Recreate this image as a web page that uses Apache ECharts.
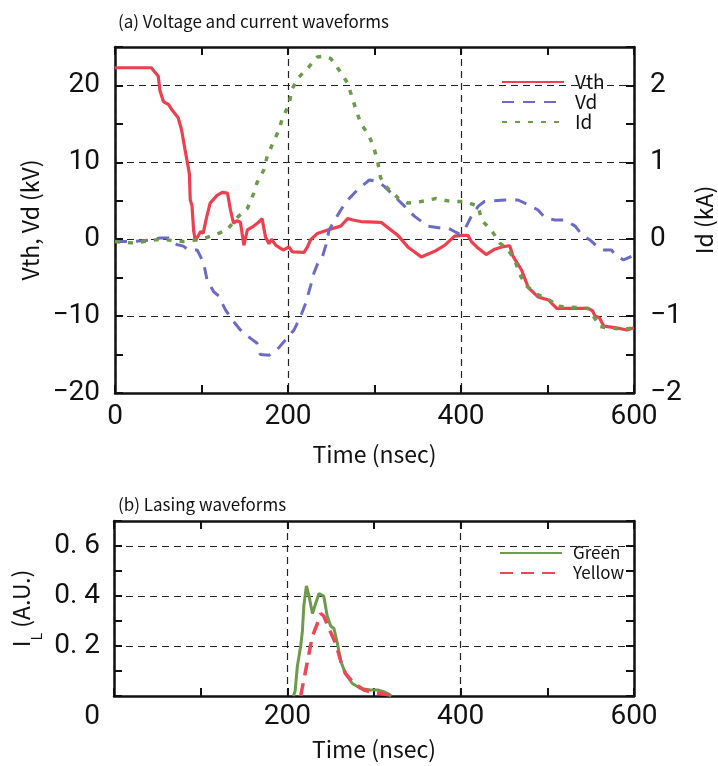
<!DOCTYPE html>
<html>
<head>
<meta charset="utf-8">
<script src="https://cdn.jsdelivr.net/npm/echarts@6/dist/echarts.min.js"></script>
<style>
html, body { margin: 0; padding: 0; background: #fff; overflow: hidden; }
#chart { width: 718px; height: 766px; }
</style>
</head>
<body>
<div id="chart"></div>
<script>
// (a) waveforms, [time (nsec), value]
const vth = [[0, 22.3], [42, 22.3], [50, 21.2], [52, 19.3], [56, 17.9], [62, 17.5], [66, 16.8], [73, 15.8], [77, 14.2],
  [81, 11.6], [84, 9.8], [86, 8.5], [87, 5.1], [89, 4.4], [91, 1], [93, -0.2], [99, 1], [102, 0.8], [106, 2.9],
  [110, 4.7], [118, 5.7], [124, 6.1], [130, 6.0], [133.5, 3.8], [137, 2.1], [141, 2.4], [145, 2.2], [149, -0.8],
  [153, 1.2], [159, 1.6], [166, 2.2], [170, 2.7], [174, 0.3], [178, -0.6], [181, 0], [186, -0.8], [191.5, -1.2],
  [195, -1.4], [201, -1.0], [205, -1.65], [218.5, -1.7], [222.5, -1.0], [226, -0.1], [234, 0.75], [245.7, 1.2],
  [261, 1.7], [269, 2.7], [275, 2.5], [284, 2.3], [307.5, 2.2], [327, 0.5], [338.5, -1], [354, -2.3], [369, -1.6],
  [381, -0.8], [392.6, 0.4], [402, 0.5], [408, 0.5], [412, -0.3], [419.7, -1.15], [429, -2], [439, -1.3], [447, -1.0],
  [456.4, -0.85], [460, -2.2], [470, -4], [477.8, -6.3], [489, -7.5], [501, -7.9], [510.6, -9], [547, -9],
  [552, -9.3], [555, -10], [560, -10.2], [565, -11.3], [578, -11.5], [592, -11.8], [600, -11.5]];

const vd = [[0, -0.3], [21, -0.3], [40, -0.1], [52, 0.15], [62, 0.15], [71.6, -0.7], [79, -0.9], [85, -1.4], [95, -1.4],
  [98.6, -2.2], [102.5, -3.1], [106.4, -5.3], [114, -6.8], [120, -7.4], [127.7, -9.2], [137, -10.7], [145, -11.8],
  [156.7, -12.9], [164, -13.5], [168, -15], [178, -15.1], [189.5, -14.1], [197, -13.1], [207, -11.8], [214.7, -10],
  [220.5, -8.3], [226, -6.1], [230, -4.4], [236, -2.7], [240, -2.2], [244, -0.7], [247.5, 1.2], [261, 3.8], [269, 5.1],
  [280, 6.4], [294, 7.7], [304, 7.5], [311, 6.9], [323, 5.6], [334.6, 4.3], [346, 3.0], [361.7, 1.7], [377, 1.45],
  [385, 1.45], [392.5, 1.0], [398, 0.7], [404, 1.2], [412, 3.0], [420, 4.3], [427, 4.9], [450.6, 5.1], [466, 5.1],
  [477.6, 4.5], [489, 3.8], [497, 2.8], [508.6, 2.5], [520, 2.5], [532, 1.7], [539.6, 0.6], [549, -0.1], [557, -0.9],
  [563, -1.4], [574, -1.4], [578, -2], [588, -2.7], [597.6, -2.2], [600, -2.1]];

const id = [[0, -0.03], [21, -0.05], [52, 0], [79, -0.03], [100, 0], [116, 0.06], [129.6, 0.12], [141, 0.28], [153, 0.4],
  [160.5, 0.6], [164, 0.73], [172, 0.9], [176, 1.08], [181.8, 1.23], [189.5, 1.42], [193.4, 1.57], [201, 1.75],
  [205, 1.96], [212.7, 2.11], [224, 2.24], [234, 2.37], [242, 2.38], [249.5, 2.35], [259, 2.2], [269, 2.03],
  [278.7, 1.68], [284, 1.51], [294, 1.34], [300, 1.16], [304, 0.99], [307, 0.8], [312, 0.7], [319, 0.62], [328, 0.53],
  [338.5, 0.47], [354, 0.49], [371, 0.53], [389, 0.49], [404, 0.49], [420, 0.43], [423.6, 0.25], [435, 0.12],
  [445, -0.05], [454.6, -0.14], [462, -0.27], [468, -0.46], [476, -0.61], [489, -0.72], [505, -0.81], [509, -0.87],
  [547, -0.9], [557, -1.07], [559, -1.13], [567, -1.15], [590, -1.17], [600, -1.15]];

// (b) lasing waveforms
const green = [[207, 0], [209, 0.02], [211.6, 0.12], [215.4, 0.2], [217.4, 0.26], [219, 0.36], [222, 0.44], [225, 0.40],
  [229, 0.33], [232.7, 0.37], [236.5, 0.41], [242, 0.40], [246, 0.32], [250, 0.28], [253.8, 0.27], [257.8, 0.21],
  [261.6, 0.14], [267, 0.09], [275, 0.05], [284.6, 0.03], [296, 0.024], [304, 0.024], [311.5, 0.017], [317, 0.008], [320, 0]];

const yellow = [[215.4, 0], [219, 0.064], [225, 0.17], [229, 0.24], [234.7, 0.29], [238.5, 0.33], [242, 0.32], [248, 0.27],
  [255.8, 0.21], [261.6, 0.14], [267, 0.09], [277, 0.05], [288.5, 0.024], [296, 0.016], [307.7, 0.01], [319, 0.004]];

const voltTicks = [-20, -10, 0, 10, 20];
const currentTicks = [-2, -1, 0, 1, 2];
const timeTicks = [0, 200, 400, 600];
const lasingTicks = [0.2, 0.4, 0.6];

const numFont = "Roboto, 'Noto Sans', sans-serif";
const textFont = "'Noto Sans CJK JP', 'Noto Sans', sans-serif";

const near = (list, v) => list.some(t => Math.abs(t - v) < 1e-6);
const minus = v => String(v).replace('-', '\u2212');

const boxLine = { show: true, onZero: false, lineStyle: { color: '#111', width: 2.5 } };
const tick = { show: true, inside: true, length: 8, lineStyle: { color: '#111', width: 2 } };
const dashGrid = { show: true, lineStyle: { color: '#222', width: 1.2, type: [7, 5] } };
const off = { show: false };

// axis that only draws the frame and inward ticks
const frameAxis = (gridIndex, position, min, max, interval) => ({
  type: 'value', gridIndex, position, min, max, interval,
  axisLine: boxLine, axisTick: tick, axisLabel: off, splitLine: off
});
// axis that only draws the dashed grid lines
const gridAxis = (gridIndex, position, min, max, interval) => ({
  type: 'value', gridIndex, position, min, max, interval,
  axisLine: off, axisTick: off, axisLabel: off, splitLine: dashGrid
});

const chart = echarts.init(document.getElementById('chart'));

const option = {
  animation: false,
  backgroundColor: '#fff',
  title: [
    { text: '(a) Voltage and current waveforms', left: 113, top: 8,
      textStyle: { fontFamily: textFont, fontSize: 17, fontWeight: 'normal', color: '#111' } },
    { text: '(b) Lasing waveforms', left: 113, top: 491,
      textStyle: { fontFamily: textFont, fontSize: 17, fontWeight: 'normal', color: '#111' } }
  ],
  legend: [
    { data: ['Vth', 'Vd', 'Id'], orient: 'vertical', left: 496, top: 67, itemWidth: 62, itemHeight: 14, itemGap: 0,
      itemStyle: { opacity: 0 },
      textStyle: { fontFamily: textFont, fontSize: 19, lineHeight: 20, color: '#111', padding: [0, 0, 0, 6] } },
    { data: ['Green', 'Yellow'], orient: 'vertical', left: 494, top: 538, itemWidth: 62, itemHeight: 14, itemGap: 0,
      itemStyle: { opacity: 0 },
      textStyle: { fontFamily: textFont, fontSize: 17, lineHeight: 20, color: '#111', padding: [0, 0, 0, 6] } }
  ],
  grid: [
    { left: 115, right: 84, top: 47, height: 346, outerBoundsMode: 'none' },
    { left: 114, right: 84, top: 521, height: 175, outerBoundsMode: 'none' }
  ],
  xAxis: [
    { type: 'value', gridIndex: 0, position: 'bottom', min: 0, max: 600, interval: 100,
      axisLine: boxLine, axisTick: tick, splitLine: off,
      axisLabel: { margin: 10, fontFamily: numFont, fontSize: 28, color: '#111',
        formatter: v => near(timeTicks, v) ? String(v) : '' },
      name: 'Time (nsec)', nameLocation: 'middle', nameGap: 50,
      nameTextStyle: { fontFamily: textFont, fontSize: 23, color: '#111' } },
    frameAxis(0, 'top', 0, 600, 100),
    gridAxis(0, 'bottom', 0, 600, 200),
    { type: 'value', gridIndex: 1, position: 'bottom', min: 0, max: 600, interval: 100,
      axisLine: boxLine, axisTick: tick, splitLine: off,
      axisLabel: { margin: 7, fontFamily: numFont, fontSize: 28, color: '#111',
        formatter: v => v === 0 ? '{z|0}' : (near(timeTicks, v) ? String(v) : ''),
        rich: { z: { fontFamily: numFont, fontSize: 28, color: '#111', padding: [0, 44, 0, 0] } } },
      name: 'Time (nsec)', nameLocation: 'middle', nameGap: 42,
      nameTextStyle: { fontFamily: textFont, fontSize: 23, color: '#111' } },
    frameAxis(1, 'top', 0, 600, 100),
    gridAxis(1, 'bottom', 0, 600, 200)
  ],
  yAxis: [
    { type: 'value', gridIndex: 0, position: 'left', min: -20, max: 25, interval: 5,
      axisLine: boxLine, axisTick: tick, splitLine: off,
      axisLabel: { margin: 15, fontFamily: numFont, fontSize: 28, color: '#111',
        formatter: v => near(voltTicks, v) ? minus(v) : '' },
      name: 'Vth, Vd (kV)', nameLocation: 'middle', nameGap: 64,
      nameTextStyle: { fontFamily: textFont, fontSize: 23, color: '#111' } },
    { type: 'value', gridIndex: 0, position: 'right', min: -2, max: 2.5, interval: 0.5,
      axisLine: boxLine, axisTick: tick, splitLine: off,
      axisLabel: { margin: 16, fontFamily: numFont, fontSize: 28, color: '#111',
        formatter: v => near(currentTicks, v) ? minus(v) : '' },
      name: 'Id (kA)', nameLocation: 'middle', nameGap: 42,
      nameTextStyle: { fontFamily: textFont, fontSize: 23, color: '#111' } },
    gridAxis(0, 'left', -20, 25, 10),
    { type: 'value', gridIndex: 1, position: 'left', min: 0, max: 0.7, interval: 0.1,
      axisLine: boxLine, axisTick: tick, splitLine: off,
      axisLabel: { margin: 14, fontFamily: numFont, fontSize: 28, color: '#111',
        formatter: v => near(lasingTicks, v) ? v.toFixed(1).replace('.', '. ') : '' },
      name: '{i|I}{l|L}{i| (A.U.)}', nameLocation: 'middle', nameGap: 68,
      nameTextStyle: { fontFamily: textFont, fontSize: 23, color: '#111',
        rich: {
          i: { fontFamily: textFont, fontSize: 23, color: '#111', lineHeight: 34, verticalAlign: 'top' },
          l: { fontFamily: textFont, fontSize: 14, color: '#111', lineHeight: 34, verticalAlign: 'bottom' }
        } } },
    frameAxis(1, 'right', 0, 0.7, 0.1),
    gridAxis(1, 'left', 0, 0.7, 0.2)
  ],
  series: [
    { name: 'Vth', type: 'line', xAxisIndex: 0, yAxisIndex: 0, data: vth, symbol: 'none',
      lineStyle: { color: '#ee3f4f', width: 3.2 }, itemStyle: { color: '#ee3f4f' } },
    { name: 'Vd', type: 'line', xAxisIndex: 0, yAxisIndex: 0, data: vd, symbol: 'none',
      lineStyle: { color: '#6b6bc4', width: 3, type: [12, 9] }, itemStyle: { color: '#6b6bc4' } },
    { name: 'Id', type: 'line', xAxisIndex: 0, yAxisIndex: 1, data: id, symbol: 'none',
      lineStyle: { color: '#6e9a4c', width: 3.5, type: [5, 8] }, itemStyle: { color: '#6e9a4c' } },
    { name: 'Green', type: 'line', xAxisIndex: 3, yAxisIndex: 3, data: green, symbol: 'none',
      lineStyle: { color: '#6e9a4c', width: 3 }, itemStyle: { color: '#6e9a4c' } },
    { name: 'Yellow', type: 'line', xAxisIndex: 3, yAxisIndex: 3, data: yellow, symbol: 'none',
      lineStyle: { color: '#ef4656', width: 3.5, type: [13, 8] }, itemStyle: { color: '#ef4656' } }
  ]
};

chart.setOption(option);
</script>
</body>
</html>
